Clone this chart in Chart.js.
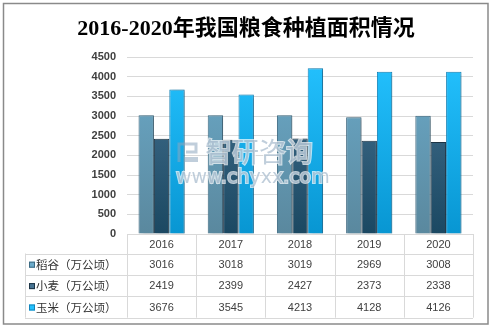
<!DOCTYPE html>
<html>
<head>
<meta charset="utf-8">
<script src="https://cdn.jsdelivr.net/npm/chart.js@4.4.1/dist/chart.umd.min.js"></script>
<style>
  html, body { margin: 0; padding: 0; background: #fff; }
  canvas { display: block; }
</style>
</head>
<body>
<canvas id="areaChart" width="492" height="329"></canvas>
<script>
// planted area per year, 万公顷
const years = ["2016", "2017", "2018", "2019", "2020"];
const riceArea = [3016, 3018, 3019, 2969, 3008];
const wheatArea = [2419, 2399, 2427, 2373, 2338];
const cornArea = [3676, 3545, 4213, 4128, 4126];
const seriesNames = ["稻谷（万公顷）", "小麦（万公顷）", "玉米（万公顷）"];
const chartTitle = "2016-2020年我国粮食种植面积情况";
const yMax = 4500;
const yStep = 500;

const palette = [
  { top: "#6cabca", bottom: "#5a889e", border: "#3d6a82" },
  { top: "#477493", bottom: "#1b4862", border: "#1d3546" },
  { top: "#24c2ff", bottom: "#0896d2", border: "#1585bb" }
];

function barGradient(p) {
  return (ctx) => {
    const area = ctx.chart.chartArea;
    if (!area) return p.top;
    const g = ctx.chart.ctx.createLinearGradient(0, area.top, 0, area.bottom);
    g.addColorStop(0, p.top);
    g.addColorStop(1, p.bottom);
    return g;
  };
}

const seriesData = [riceArea, wheatArea, cornArea];

const tableFont = "11px 'Liberation Sans', Arial, sans-serif";
const labelFont = "11.5px 'Noto Sans CJK SC', sans-serif";
const lineColor = "#d9d9d9";

const framePlugin = {
  id: "frame",
  beforeDraw(chart) {
    const c = chart.ctx;
    c.save();
    c.fillStyle = "#fff";
    c.fillRect(0, 0, chart.width, chart.height);
    c.strokeStyle = "#8a8a8a";
    c.lineWidth = 1.5;
    c.strokeRect(3.5, 3.5, 484.5, 320.5);

    // title, centred on the whole frame
    c.fillStyle = "#000";
    c.textAlign = "center";
    c.textBaseline = "middle";
    c.font = "bold 22px 'Liberation Serif', 'Noto Sans CJK SC', serif";
    c.fillText(chartTitle, 246, 29);
    c.restore();
  },
  beforeDatasetsDraw(chart) {
    const c = chart.ctx;
    c.save();
    c.shadowColor = "rgba(0,0,0,0.28)";
    c.shadowOffsetX = 2;
    c.shadowOffsetY = 1;
    c.shadowBlur = 3;
  },
  afterDatasetsDraw(chart) {
    const c = chart.ctx;
    c.restore();

    // watermark
    c.save();
    c.fillStyle = "rgba(140,165,190,0.55)";
    c.strokeStyle = "rgba(255,255,255,0.7)";
    c.lineWidth = 2;
    c.textBaseline = "middle";
    c.textAlign = "left";
    c.font = "27px 'Noto Sans CJK SC', sans-serif";
    c.strokeText("智研咨询", 205, 152);
    c.fillText("智研咨询", 205, 152);
    c.font = "19px 'DejaVu Sans', sans-serif";
    c.strokeText("www.chyxx.com", 176, 178);
    c.fillText("www.chyxx.com", 176, 178);
    c.lineWidth = 3;
    c.strokeStyle = "rgba(140,165,190,0.55)";
    c.beginPath();
    c.moveTo(179, 162);
    c.lineTo(179, 144);
    c.lineTo(196, 144);
    c.lineTo(196, 152);
    c.lineTo(186, 152);
    c.stroke();
    c.fillRect(185, 157, 13, 5);
    c.restore();
  },
  afterDraw(chart) {
    const c = chart.ctx;
    const area = chart.chartArea;
    const colW = (area.right - area.left) / years.length;
    const labelLeft = 25;
    const headTop = area.bottom;
    const headBottom = headTop + 19.5;
    const rowH = 21.4;
    const tableBottom = headBottom + rowH * seriesNames.length;

    c.save();
    c.strokeStyle = lineColor;
    c.lineWidth = 1;
    c.beginPath();
    for (let r = 0; r <= seriesNames.length; r++) {
      const y = Math.round(headBottom + r * rowH) + 0.5;
      c.moveTo(labelLeft, y);
      c.lineTo(area.right, y);
    }
    for (let i = 0; i <= years.length; i++) {
      const x = Math.round(area.left + i * colW) + 0.5;
      c.moveTo(x, headTop);
      c.lineTo(x, tableBottom);
    }
    c.moveTo(labelLeft + 0.5, headBottom);
    c.lineTo(labelLeft + 0.5, tableBottom);
    c.stroke();

    c.fillStyle = "#404040";
    c.textAlign = "center";
    c.textBaseline = "middle";
    c.font = tableFont;
    const xs = chart.scales.x;
    years.forEach((yr, i) => {
      const cx = xs.getPixelForValue(i);
      c.fillText(yr, cx, (headTop + headBottom) / 2 + 1);
    });

    seriesNames.forEach((name, r) => {
      const cy = headBottom + rowH * r + rowH / 2 + 0.5;
      const p = palette[r];
      c.fillStyle = p.top;
      c.fillRect(29, cy - 3, 6, 6);
      c.strokeStyle = p.border;
      c.strokeRect(29.5, cy - 2.5, 5, 5);
      c.fillStyle = "#333";
      c.textAlign = "left";
      c.font = labelFont;
      c.fillText(name, 36, cy);
      c.textAlign = "center";
      c.font = tableFont;
      c.fillStyle = "#404040";
      seriesData[r].forEach((v, i) => {
        c.fillText(String(v), xs.getPixelForValue(i), cy);
      });
    });
    c.restore();
  }
};

new Chart(document.getElementById("areaChart"), {
  type: "bar",
  data: {
    labels: years,
    datasets: seriesNames.map((name, i) => ({
      label: name,
      data: seriesData[i],
      backgroundColor: barGradient(palette[i]),
      borderColor: palette[i].border,
      borderWidth: 1,
      categoryPercentage: 0.667,
      barPercentage: 1
    }))
  },
  options: {
    responsive: false,
    animation: false,
    layout: { padding: { left: 0, right: 19, top: 57, bottom: 95 } },
    plugins: {
      legend: { display: false },
      tooltip: { enabled: false },
      title: { display: false }
    },
    scales: {
      x: { display: false },
      y: {
        min: 0,
        max: yMax,
        border: { display: false },
        grid: { color: lineColor, drawTicks: false },
        ticks: {
          stepSize: yStep,
          padding: 11,
          color: "#404040",
          font: { family: "'Liberation Sans', Arial, sans-serif", size: 11, weight: "bold" },
          callback: (v) => String(v)
        },
        afterFit(scale) { scale.width = 127; }
      }
    }
  },
  plugins: [framePlugin]
});
</script>
</body>
</html>
